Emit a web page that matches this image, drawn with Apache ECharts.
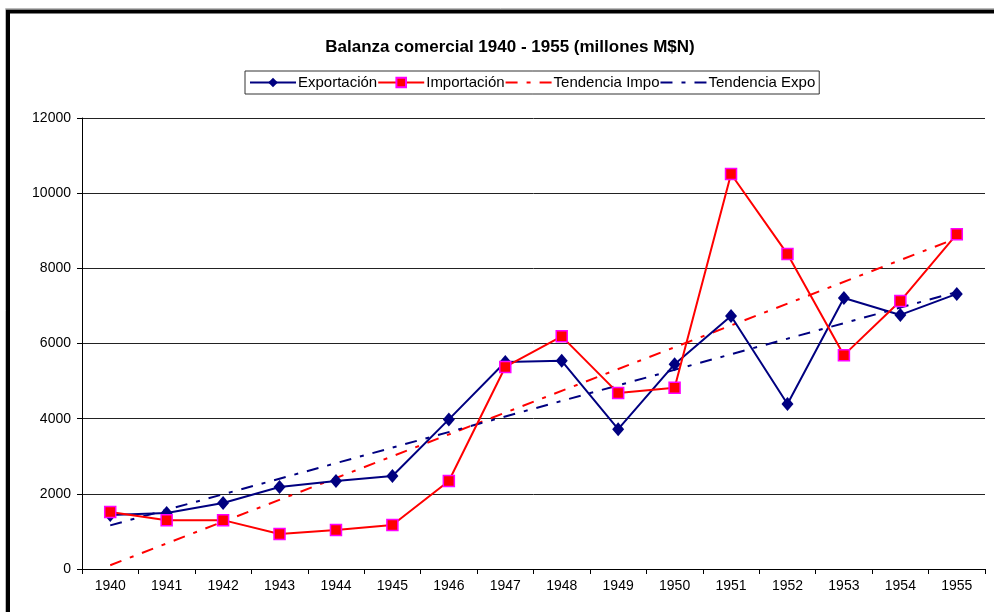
<!DOCTYPE html>
<html>
<head>
<meta charset="utf-8">
<script src="https://cdn.jsdelivr.net/npm/echarts@6/dist/echarts.min.js"></script>
<style>html,body{margin:0;padding:0;background:#fff;}#c{width:994px;height:612px;}</style>
</head>
<body>
<div id="c"></div>
<script>
var years = ['1940','1941','1942','1943','1944','1945','1946','1947','1948','1949','1950','1951','1952','1953','1954','1955'];
var exportacion = [1437,1490,1756,2180,2340,2475,3980,5507,5540,3720,5450,6730,4390,7210,6760,7320];
var importacion = [1516,1300,1300,930,1040,1170,2340,5375,6190,4680,4820,10510,8380,5690,7130,8910];
var tendenciaImpo = [100,null,null,null,null,null,null,null,null,null,null,null,null,null,null,8800];
var tendenciaExpo = [1160,null,null,null,null,null,null,null,null,null,null,null,null,null,null,7370];
var yTicks = [0,2000,4000,6000,8000,10000,12000];

var FONT = 'Liberation Sans, Arial, sans-serif';
var hidden = {color:'rgba(0,0,0,0)',borderWidth:0,borderColor:'rgba(0,0,0,0)'};
var chart = echarts.init(document.getElementById('c'), null, {renderer:'canvas'});
chart.setOption({
  backgroundColor:'#fff',
  animation:false,
  graphic:[
    {type:'rect', shape:{x:5.5,y:8.5,width:1200,height:1200}, style:{fill:'none',stroke:'#bbb',lineWidth:1}, silent:true},
    {type:'rect', shape:{x:8,y:11.5,width:1200,height:1200}, style:{fill:'none',stroke:'#000',lineWidth:4}, silent:true}
  ],
  title:{
    text:'Balanza comercial 1940 - 1955 (millones M$N)',
    left:505, top:34, textAlign:'center',
    textStyle:{fontFamily:FONT,fontSize:17,fontWeight:'bold',color:'#000'}
  },
  legend:{
    left:245, top:71,
    padding:[4,4,4,4],
    borderColor:'#333', borderWidth:1,
    itemGap:0, itemWidth:46, itemHeight:12,
    textStyle:{fontFamily:FONT,fontSize:15,color:'#000',padding:[0,0,0,-3]},
    data:[
      {name:'Exportación'},
      {name:'Importación'},
      {name:'Tendencia Impo',itemStyle:hidden},
      {name:'Tendencia Expo',itemStyle:hidden}
    ]
  },
  grid:{left:82,right:9,top:118,bottom:43,containLabel:false},
  xAxis:{
    type:'category', data:years, boundaryGap:true,
    axisLine:{lineStyle:{color:'#000',width:1}},
    axisTick:{show:true,alignWithLabel:false,length:5,lineStyle:{color:'#000'}},
    axisLabel:{fontFamily:FONT,fontSize:14,color:'#000',margin:10},
    splitLine:{show:false}
  },
  yAxis:{
    type:'value', min:yTicks[0], max:yTicks[yTicks.length-1], interval:2000,
    axisLine:{show:true,lineStyle:{color:'#000',width:1}},
    axisTick:{show:true,length:5,lineStyle:{color:'#000'}},
    axisLabel:{fontFamily:FONT,fontSize:14,color:'#000',margin:11,formatter:function(v){return String(v);}},
    splitLine:{show:true,lineStyle:{color:'#222',width:1}}
  },
  series:[
    {name:'Exportación',type:'line',data:exportacion,symbol:'diamond',symbolSize:[12,14],
     lineStyle:{color:'#000080',width:2},itemStyle:{color:'#000080'},z:4},
    {name:'Importación',type:'line',data:importacion,symbol:'rect',symbolSize:11,
     lineStyle:{color:'#ff0000',width:2},itemStyle:{color:'#ff0000',borderColor:'#ff00ff',borderWidth:1.5},z:5},
    {name:'Tendencia Impo',type:'line',data:tendenciaImpo,connectNulls:true,showSymbol:false,symbol:'none',
     lineStyle:{color:'#ff0000',width:2,type:[12,9,4,9]},itemStyle:{color:'#ff0000'},z:3},
    {name:'Tendencia Expo',type:'line',data:tendenciaExpo,connectNulls:true,showSymbol:false,symbol:'none',
     lineStyle:{color:'#000080',width:2,type:[12,9,4,9]},itemStyle:{color:'#000080'},z:3}
  ]
});
</script>
</body>
</html>
